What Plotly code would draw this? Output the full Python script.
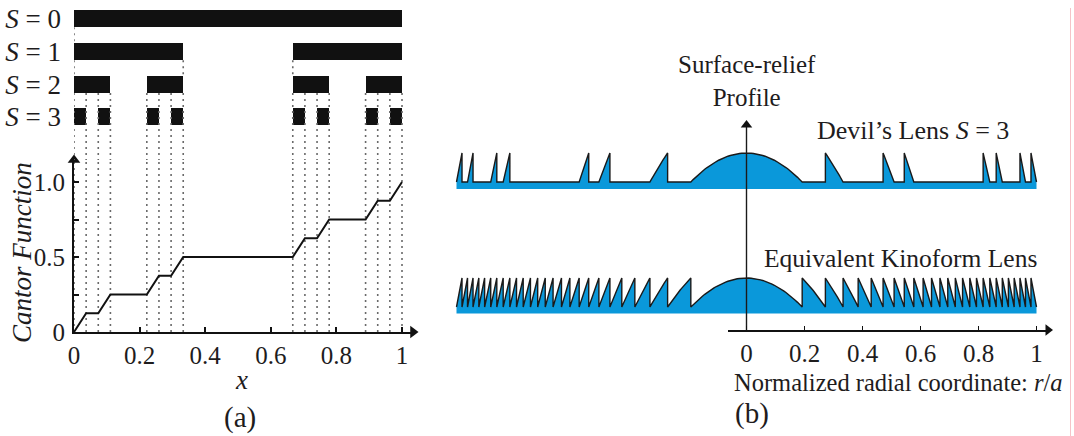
import numpy as np
import plotly.graph_objects as go

W, H = 1074, 436
FONT = "Liberation Serif"
INK = "#1e1c1d"
BLUE = "#0a98da"

# ---------------- data: panel (a) ----------------
bar_level = [0, 1, 1, 2, 2, 2, 2, 3, 3, 3, 3, 3, 3, 3, 3]
bar_start = [0.0, 0.0, 0.667, 0.0, 0.222, 0.667, 0.889,
             0.0, 0.074, 0.222, 0.296, 0.667, 0.741, 0.889, 0.963]
bar_end = [1.0, 0.333, 1.0, 0.111, 0.333, 0.778, 1.0,
           0.037, 0.111, 0.259, 0.333, 0.704, 0.778, 0.926, 1.0]
level_labels = ["<i>S</i> = 0", "<i>S</i> = 1", "<i>S</i> = 2", "<i>S</i> = 3"]

cantor_x = [0, 0.037, 0.074, 0.111, 0.222, 0.259, 0.296, 0.333,
            0.667, 0.704, 0.741, 0.778, 0.889, 0.926, 0.963, 1.0]
cantor_y = [0, 0.125, 0.125, 0.25, 0.25, 0.375, 0.375, 0.5,
            0.5, 0.625, 0.625, 0.75, 0.75, 0.875, 0.875, 1.0]

guides_01 = [0.0]
guides_12 = [0.0, 0.333, 0.667]
guides_s3 = cantor_x

x_ticks_a = [0, 0.2, 0.4, 0.6, 0.8, 1.0]
x_ticktext_a = ["0", "0.2", "0.4", "0.6", "0.8", "1"]
y_ticks_a = [0, 0.25, 0.5, 0.75, 1.0]
y_ticktext_a = ["0", "", "0.5", "", "1.0"]

# ---------------- data: panel (b) ----------------
devil_zone_start = [0.0, 0.272, 0.471, 0.544, 0.816, 0.861, 0.943, 0.981]
devil_zone_end = [0.192, 0.333, 0.509, 0.577, 0.839, 0.882, 0.962, 1.0]
kino_edges = [0.0, 0.192, 0.272, 0.333, 0.385, 0.430, 0.471, 0.509, 0.544,
              0.577, 0.609, 0.638, 0.667, 0.694, 0.720, 0.745, 0.770, 0.793,
              0.816, 0.839, 0.861, 0.882, 0.903, 0.923, 0.943, 0.962, 0.981, 1.0]
profile_height = 1.0
devil_base = -0.24
kino_base = -0.22

r_ticks_b = [0, 0.2, 0.4, 0.6, 0.8, 1.0]
r_ticktext_b = ["0", "0.2", "0.4", "0.6", "0.8", "1"]


def profile(starts, ends, h):
    """Sawtooth in r^2: height h at each zone start, 0 at its end; flat 0 in gaps."""
    rs, zs = [], []
    for r0, r1 in zip(starts, ends):
        if r0 > 0:
            rs.append(r0); zs.append(0.0)
        rr = np.linspace(r0, r1, 25)
        zz = h * (r1 ** 2 - rr ** 2) / (r1 ** 2 - r0 ** 2)
        rs.extend(rr.tolist()); zs.extend(zz.tolist())
    rp = np.array(rs); zp = np.array(zs)
    r_full = np.concatenate([-rp[::-1], rp[1:]])
    z_full = np.concatenate([zp[::-1], zp[1:]])
    return r_full, z_full


def px_x(p):
    return p / W


def px_y(p):
    return 1 - p / H


fig = go.Figure()

# ---- panel (a): Cantor bars ----
fig.add_trace(go.Bar(
    orientation="h", y=bar_level,
    x=[e - s for s, e in zip(bar_start, bar_end)], base=bar_start,
    width=0.52, marker=dict(color="#111111", line=dict(width=0)),
    xaxis="x2", yaxis="y2", hoverinfo="skip"))

dot_style = dict(color="#6a6a6a", width=1.6, dash="2px,4px")
gx, gy = [], []
for v in guides_01:
    gx += [v, v, None]; gy += [0.27, 0.73, None]
for v in guides_12:
    gx += [v, v, None]; gy += [1.27, 1.73, None]
for v in guides_s3:
    gx += [v, v, None]; gy += [2.27, 4.4, None]
fig.add_trace(go.Scatter(x=gx, y=gy, mode="lines", line=dot_style,
                         xaxis="x2", yaxis="y2", hoverinfo="skip"))

# ---- panel (a): Cantor function ----
gx2, gy2 = [], []
for v in guides_s3:
    gx2 += [v, v, None]; gy2 += [0, 1.2, None]
fig.add_trace(go.Scatter(x=gx2, y=gy2, mode="lines", line=dot_style,
                         xaxis="x", yaxis="y", hoverinfo="skip"))
fig.add_trace(go.Scatter(x=cantor_x, y=cantor_y, mode="lines",
                         line=dict(color="#111111", width=2),
                         xaxis="x", yaxis="y", hoverinfo="skip"))

XA_MAX = (413 - 74) / 328
YA_MAX = (332 - 160) / 150
fig.add_trace(go.Scatter(x=[XA_MAX, 0], y=[0, YA_MAX], mode="markers",
                         marker=dict(symbol=["triangle-right", "triangle-up"],
                                     size=11, color="#111111"),
                         cliponaxis=False, xaxis="x", yaxis="y", hoverinfo="skip"))

# ---- panel (b): lens profiles ----
for starts, ends, base, xa, ya in [
        (devil_zone_start, devil_zone_end, devil_base, "x3", "y3"),
        (kino_edges[:-1], kino_edges[1:], kino_base, "x4", "y4")]:
    r, z = profile(starts, ends, profile_height)
    fig.add_trace(go.Scatter(
        x=np.concatenate([r, [r[-1], r[0]]]),
        y=np.concatenate([z, [base, base]]),
        mode="lines", fill="toself", fillcolor=BLUE,
        line=dict(width=0, color=BLUE), xaxis=xa, yaxis=ya, hoverinfo="skip"))
    fig.add_trace(go.Scatter(x=r, y=z, mode="lines",
                             line=dict(color="#1a1a1a", width=1.4),
                             xaxis=xa, yaxis=ya, hoverinfo="skip"))

# ---- panel (b): axes ----
XB_MAX = (1048 - 746.5) / 290
YB_TOP = (330 - 125) / 230
fig.add_trace(go.Scatter(x=[0, 0], y=[0, YB_TOP], mode="lines",
                         line=dict(color="#1a1a1a", width=1.4),
                         xaxis="x5", yaxis="y5", hoverinfo="skip"))
fig.add_trace(go.Scatter(x=[XB_MAX, 0], y=[0, YB_TOP], mode="markers",
                         marker=dict(symbol=["triangle-right", "triangle-up"],
                                     size=10, color="#111111"),
                         cliponaxis=False, xaxis="x5", yaxis="y5", hoverinfo="skip"))

tickfont = dict(family=FONT, size=25, color=INK)
hidden = dict(visible=False, showgrid=False, zeroline=False, automargin=False)

lens_x_range = [(440 - 746.5) / 290, (1060 - 746.5) / 290]

fig.update_layout(
    width=W, height=H, margin=dict(l=0, r=0, t=0, b=0, pad=0, autoexpand=False),
    paper_bgcolor="white", plot_bgcolor="rgba(0,0,0,0)",
    showlegend=False, bargap=0,
    font=dict(family=FONT, color=INK, size=25),
    xaxis=dict(domain=[px_x(74), px_x(413)], range=[0, XA_MAX], anchor="y",
               showline=True, linecolor="#111111", linewidth=2,
               ticks="inside", ticklen=5, tickwidth=1.5, tickcolor="#111111",
               tickvals=x_ticks_a, ticktext=x_ticktext_a, tickfont=tickfont,
               showgrid=False, zeroline=False, automargin=False),
    yaxis=dict(domain=[px_y(332), px_y(160)], range=[0, YA_MAX], anchor="x",
               showline=True, linecolor="#111111", linewidth=2,
               ticks="inside", ticklen=5, tickwidth=1.5, tickcolor="#111111",
               tickvals=y_ticks_a, ticktext=y_ticktext_a, tickfont=tickfont,
               ticklabelstandoff=2, showgrid=False, zeroline=False, automargin=False),
    xaxis2=dict(domain=[px_x(74), px_x(413)], range=[0, XA_MAX], anchor="y2", **hidden),
    yaxis2=dict(domain=[px_y(160), 1], range=[(160 - 18.5) / 32.8, -18.5 / 32.8],
                anchor="x2", showline=False, showgrid=False, zeroline=False,
                ticks="", tickvals=[0, 1, 2, 3], ticktext=level_labels,
                tickfont=dict(family=FONT, size=27, color=INK), ticklabelstandoff=12,
                automargin=False),
    xaxis3=dict(domain=[px_x(440), px_x(1060)], range=lens_x_range, anchor="y3", **hidden),
    yaxis3=dict(domain=[px_y(195), px_y(140)], range=[(182 - 195) / 29, (182 - 140) / 29],
                anchor="x3", **hidden),
    xaxis4=dict(domain=[px_x(440), px_x(1060)], range=lens_x_range, anchor="y4", **hidden),
    yaxis4=dict(domain=[px_y(320), px_y(265)], range=[(307 - 320) / 29, (307 - 265) / 29],
                anchor="x4", **hidden),
    xaxis5=dict(domain=[px_x(728), px_x(1048)], range=[(728 - 746.5) / 290, XB_MAX],
                anchor="y5", showline=True, linecolor="#111111", linewidth=1.5,
                ticks="inside", ticklen=4, tickwidth=1.3, tickcolor="#111111",
                tickvals=r_ticks_b, ticktext=r_ticktext_b, tickfont=tickfont,
                showgrid=False, zeroline=False, automargin=False),
    yaxis5=dict(domain=[px_y(330), px_y(100)], range=[0, 1], anchor="x5", **hidden),
)

def note(text, x, y, size=26, xanchor="center", angle=0):
    fig.add_annotation(text=text, x=px_x(x), y=px_y(y), xref="paper", yref="paper",
                       showarrow=False, xanchor=xanchor, yanchor="middle",
                       textangle=angle,
                       font=dict(family=FONT, size=size, color=INK))

note("<i>Cantor Function</i>", 22, 253, size=27, angle=-90)
note("<i>x</i>", 241, 380, size=27)
note("(a)", 240, 417, size=29)
note("Surface-relief<br>Profile", 747, 81, size=25)
note("Devil’s Lens <i>S</i> = 3", 913, 130)
note("Equivalent Kinoform Lens", 900, 258, size=25.5)
note("Normalized radial coordinate: <i>r</i>/<i>a</i>", 732, 382, size=24.5, xanchor="left")
note("(b)", 752, 413, size=29)

fig.add_shape(type="line", xref="paper", yref="paper",
              x0=px_x(1070.5), x1=px_x(1070.5), y0=px_y(436), y1=px_y(8),
              line=dict(color="#f6c3c8", width=1))

fig.write_html("out.html")
